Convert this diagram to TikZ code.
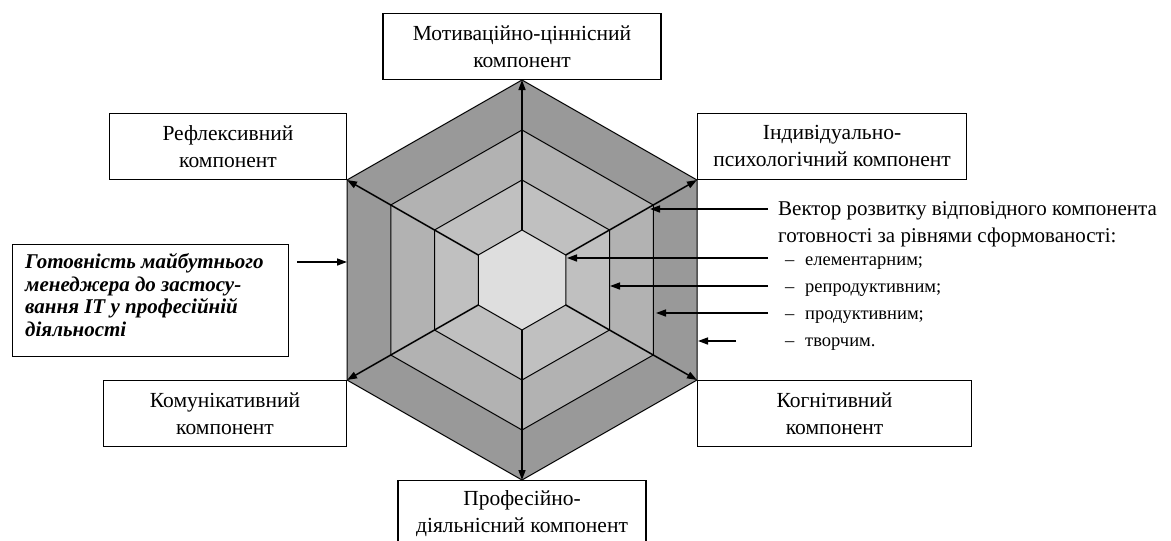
\documentclass[tikz,border=0pt]{standalone}
\usepackage{fontspec}
\setmainfont{Liberation Serif}
\usetikzlibrary{arrows.meta}
\definecolor{ringA}{RGB}{153,153,153}
\definecolor{ringB}{RGB}{178,178,178}
\definecolor{ringC}{RGB}{192,192,192}
\definecolor{ringD}{RGB}{222,222,222}
\tikzset{
  hexline/.style={draw=black, line width=1pt},
  vec/.style={line width=1.5pt, -{Triangle[length=10pt,width=7pt]}},
  ptr/.style={line width=1.5pt, -{Triangle[length=10pt,width=7pt]}},
  compbox/.style={draw=black, line width=1.1pt, fill=white, align=center, inner sep=0pt,
    minimum height=66pt, font=\fontsize{21.5}{27}\selectfont},
  desc/.style={anchor=base west, inner sep=0pt, font=\fontsize{21}{25}\selectfont},
  item/.style={anchor=base west, inner sep=0pt, font=\fontsize{18.5}{22}\selectfont}
}
\begin{document}
\begin{tikzpicture}[x=1pt,y=-1pt]
\clip (0,0) rectangle (1171,541);
\fill[white] (0,0) rectangle (1171,541);
% hexagons
\foreach \s/\n/\c in {1/1/ringA, 0.75/2/ringB, 0.5/3/ringC, 0.25/4/ringD} {
  \coordinate (T\n) at (522,280-200*\s);
  \coordinate (TR\n) at (522+175*\s,280-100*\s);
  \coordinate (BR\n) at (522+175*\s,280+100*\s);
  \coordinate (B\n) at (522,280+200*\s);
  \coordinate (BL\n) at (522-175*\s,280+100*\s);
  \coordinate (TL\n) at (522-175*\s,280-100*\s);
  \filldraw[hexline, fill=\c] (T\n) -- (TR\n) -- (BR\n) -- (B\n) -- (BL\n) -- (TL\n) -- cycle;
}
% radial vectors
\foreach \v in {T,TR,BR,B,BL,TL} {
  \draw[vec] (\v4) -- (\v1);
}
% component boxes
\node[compbox, minimum width=278pt, anchor=south] (mot) at (T1) {Мотиваційно-ціннісний\\компонент};
\node[compbox, minimum width=237pt, anchor=south east] (ref) at (TL1) {Рефлексивний\\компонент};
\node[compbox, minimum width=269pt, anchor=south west] (ind) at (TR1) {Індивідуально-\\психологічний компонент};
\node[compbox, minimum width=243pt, anchor=north east] (kom) at (BL1) {Комунікативний\\компонент};
\node[compbox, minimum width=274pt, anchor=north west] (kog) at (BR1) {Когнітивний\\компонент};
\node[compbox, minimum width=248pt, anchor=north] (pro) at (B1) {Професійно-\\діяльнісний компонент};
% readiness box
\node[draw=black, line width=1.3pt, fill=white, minimum width=276pt, minimum height=112pt,
  anchor=north west, inner sep=0pt] (got) at (12,244) {};
\node[anchor=north west, inner sep=0pt, align=left,
  font=\fontsize{21}{22.7}\selectfont\bfseries\itshape] (gottxt) at (25,253)
  {Готовність майбутнього\\менеджера до застосу-\\вання IT у професійній\\діяльності};
\coordinate (gotS) at (297,262);
\coordinate (gotE) at (347,262);
\draw[ptr] (gotS) -- (gotE);
% description text
\node[desc] (d1) at (778,215) {Вектор розвитку відповідного компонента};
\node[desc] (d2) at (778,242) {готовності за рівнями сформованості:};
\foreach \y/\t/\n in {265/елементарним;/1, 292/репродуктивним;/2, 319/продуктивним;/3, 346/творчим./4} {
  \node[item] (dash\n) at (785,\y) {–};
  \node[item] (it\n) at (805,\y) {\t};
}
% pointer arrows
\coordinate (p1s) at (768,209); \coordinate (p1e) at (650,209);
\coordinate (p2s) at (768,258); \coordinate (p2e) at (567,258);
\coordinate (p3s) at (768,286); \coordinate (p3e) at (610,286);
\coordinate (p4s) at (768,313); \coordinate (p4e) at (656,313);
\coordinate (p5s) at (736,341); \coordinate (p5e) at (698,341);
\foreach \i in {1,...,5} { \draw[ptr] (p\i s) -- (p\i e); }
\end{tikzpicture}
\end{document}
